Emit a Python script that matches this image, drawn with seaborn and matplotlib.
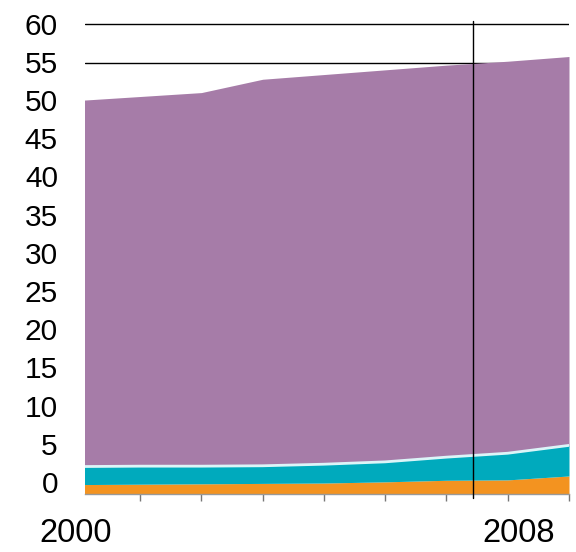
import numpy as np
import pandas as pd
import matplotlib
matplotlib.use("Agg")
import matplotlib.pyplot as plt
import seaborn as sns
from matplotlib.transforms import ScaledTranslation, blended_transform_factory

# ---- data ----
positions = [0, 1, 2, 3, 4, 5, 6, 7, 8]
orange = [1.2, 1.25, 1.3, 1.35, 1.4, 1.55, 1.75, 1.8, 2.3]
teal = [2.3, 2.3, 2.25, 2.25, 2.4, 2.55, 2.95, 3.4, 3.9]
purple = [46.7, 47.15, 47.65, 49.3, 49.7, 50.0, 50.0, 50.0, 49.6]
x_labels = ["2000", "2008"]
x_label_pos = [-0.06, 7.18]
y_ticks = list(range(0, 61, 5))
marker_x = 6.43

sns.set_theme(style="white")
plt.rcParams["font.family"] = ["Liberation Sans", "DejaVu Sans"]

fig = plt.figure(figsize=(5.76, 5.52), dpi=100)
ax = fig.add_axes([85 / 576, 1 - 494 / 552, (569 - 85) / 576, (494 - 21) / 552])

ax.stackplot(positions, orange, teal, purple,
             colors=["#f39320", "#00aabd", "#a67ca8"], linewidth=0, zorder=2)

df = pd.DataFrame({"x": positions,
                   "y": np.array(orange) + np.array(teal)})
sns.lineplot(data=df, x="x", y="y", color="#dcf5f8", linewidth=2, ax=ax, zorder=3)

ax.set_xlim(0.1, 8)
ax.set_ylim(0, 60.33)
ax.set_xlabel("")
ax.set_ylabel("")

ax.set_yticks(y_ticks)
ax.set_yticklabels([str(v) for v in y_ticks])
ax.yaxis.grid(True, color="black", linewidth=1)
ax.xaxis.grid(False)
ax.set_axisbelow(True)
ax.tick_params(axis="y", length=0, pad=19.5, labelsize=21.5, labelcolor="black")

ax.set_xticks(positions[1:])
ax.set_xticklabels([])
ax.tick_params(axis="x", direction="out", length=5, width=1, color="#777777",
               bottom=True)

for s in ["left", "right", "top"]:
    ax.spines[s].set_visible(False)
ax.spines["bottom"].set_color("#999999")
ax.spines["bottom"].set_linewidth(1)

ax.axvline(marker_x, ymin=-0.008, ymax=1, color="black", linewidth=1,
           clip_on=False, zorder=4)

# slight compression of the y labels as in the reference
for v, lab in zip(y_ticks, ax.get_yticklabels()):
    off = 12 * (60 - v) / 60 / 100.0
    lab.set_transform(lab.get_transform() + ScaledTranslation(0, off, fig.dpi_scale_trans))

trans = blended_transform_factory(ax.transData, ax.transAxes)
for lbl, px in zip(x_labels, x_label_pos):
    ax.text(px, (494 - 533) / 473, lbl, transform=trans, ha="center", va="center",
            fontsize=23.5, color="black", clip_on=False)

fig.savefig("out.png", dpi=100)
